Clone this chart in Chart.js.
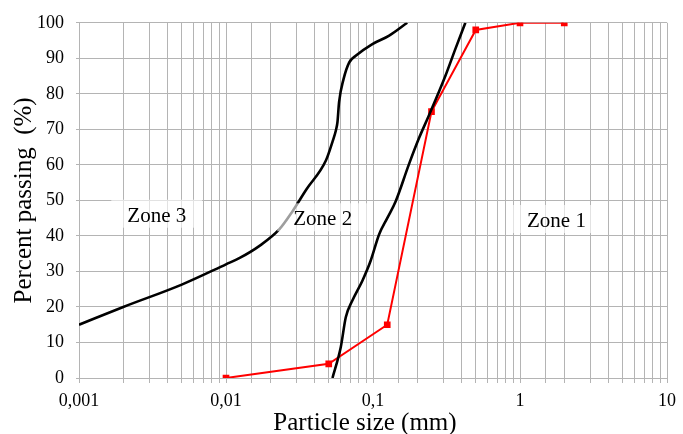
<!DOCTYPE html>
<html>
<head>
<meta charset="utf-8">
<script src="https://cdn.jsdelivr.net/npm/chart.js@4/dist/chart.umd.min.js"></script>
<style>
  html, body { margin: 0; padding: 0; background: #fff; }
  #wrap { width: 683px; height: 434px; }
</style>
</head>
<body>
<div id="wrap"><canvas id="c" width="683" height="434"></canvas></div>
<script>
// ---- data ----
const zone32X = [0.001, 0.002, 0.005, 0.01, 0.0124, 0.0169, 0.0231, 0.0283, 0.0351, 0.0479, 0.053, 0.0559, 0.0573, 0.0588, 0.0631, 0.0688, 0.0763, 0.099, 0.128, 0.171];
const zone32Y = [15, 20, 26.3, 32, 33.8, 37.2, 41.9, 46.9, 53, 61.3, 66.5, 69.7, 72, 77.7, 84.2, 88.8, 90.7, 94, 96.3, 100];

const zone21X = [0.053, 0.0604, 0.0653, 0.0724, 0.0847, 0.0964, 0.11, 0.125, 0.1425, 0.175, 0.205, 0.24, 0.311, 0.363, 0.425];
const zone21Y = [0, 8.75, 17.1, 21.8, 27.4, 33, 40.4, 45, 49.7, 60, 67.4, 73.9, 85.1, 92.6, 100];

const sampleX = [0.01, 0.05, 0.125, 0.25, 0.5, 1, 2];
const sampleY = [0, 4, 15, 75, 98, 100, 100];

const xTickLabels = ['0,001', '0,01', '0,1', '1', '10'];
const yTickLabels = ['0', '10', '20', '30', '40', '50', '60', '70', '80', '90', '100'];

const zoneNames = ['Zone 3', 'Zone 2', 'Zone 1'];
const zoneLabelX = [0.00338, 0.0455, 1.77];
const zoneLabelY = [44, 43, 42.5];

const xTitle = 'Particle size (mm)';
const yTitle = 'Percent passing  (%)';

const toPts = (xs, ys) => xs.map((x, i) => ({ x: x, y: ys[i] }));

const FONT = '"Liberation Serif", "Times New Roman", serif';
const GRID = '#b4b4b4';

const zonePlugin = {
  id: 'zones',
  afterDatasetsDraw(chart) {
    const { ctx, scales, chartArea } = chart;
    ctx.save();
    ctx.font = '21px ' + FONT;
    ctx.textAlign = 'center';
    ctx.textBaseline = 'alphabetic';
    zoneNames.forEach((name, i) => {
      const px = scales.x.getPixelForValue(zoneLabelX[i]);
      const py = scales.y.getPixelForValue(zoneLabelY[i]);
      const w = ctx.measureText(name).width;
      ctx.fillStyle = 'rgba(255,255,255,0.62)';
      ctx.fillRect(px - w / 2 - 16, py - 22, w + 32, 28);
      ctx.fillStyle = '#000';
      ctx.fillText(name, px, py);
    });
    // x-axis title
    ctx.font = '25px ' + FONT;
    ctx.fillText(xTitle, (chartArea.left + chartArea.right) / 2 - 8, chart.height - 4);
    ctx.restore();
  }
};

new Chart(document.getElementById('c'), {
  type: 'scatter',
  data: {
    datasets: [
      {
        data: toPts(zone32X, zone32Y),
        showLine: true,
        borderColor: '#000',
        borderWidth: 2.6,
        pointRadius: 0,
        cubicInterpolationMode: 'monotone'
      },
      {
        data: toPts(zone21X, zone21Y),
        showLine: true,
        borderColor: '#000',
        borderWidth: 2.6,
        pointRadius: 0,
        cubicInterpolationMode: 'monotone'
      },
      {
        data: toPts(sampleX, sampleY),
        showLine: true,
        borderColor: '#f00',
        backgroundColor: '#f00',
        borderWidth: 2,
        pointStyle: 'rect',
        pointRadius: 3.3,
        tension: 0
      }
    ]
  },
  options: {
    responsive: false,
    animation: false,
    devicePixelRatio: 1,
    layout: { padding: { top: 20, right: 14, left: 0, bottom: 0 } },
    plugins: { legend: { display: false }, tooltip: { enabled: false } },
    scales: {
      x: {
        type: 'logarithmic',
        min: 0.001,
        max: 10,
        afterFit(s) { s.height = 56; },
        border: { color: GRID, width: 1 },
        grid: { color: GRID, lineWidth: 1, drawTicks: true, tickLength: 5, tickColor: GRID },
        ticks: {
          autoSkip: false,
          maxRotation: 0,
          padding: 7,
          color: '#000',
          font: { family: FONT, size: 18 },
          callback(v) {
            const l = Math.log10(v);
            if (Math.abs(l - Math.round(l)) < 1e-6) {
              return xTickLabels[Math.round(l) + 3];
            }
            return '';
          }
        },
        title: { display: false }
      },
      y: {
        min: 0,
        max: 100,
        afterFit(s) { s.width = 79; },
        border: { color: GRID, width: 1 },
        grid: { color: GRID, lineWidth: 1, drawTicks: true, tickLength: 3, tickColor: GRID },
        ticks: {
          stepSize: 10,
          padding: 12,
          color: '#000',
          font: { family: FONT, size: 18 },
          callback(v) { return yTickLabels[Math.round(v / 10)]; }
        },
        title: {
          display: true,
          text: yTitle,
          color: '#000',
          font: { family: FONT, size: 25, lineHeight: 1 },
          padding: { top: 12, bottom: 0 }
        }
      }
    }
  },
  plugins: [zonePlugin]
});
</script>
</body>
</html>
